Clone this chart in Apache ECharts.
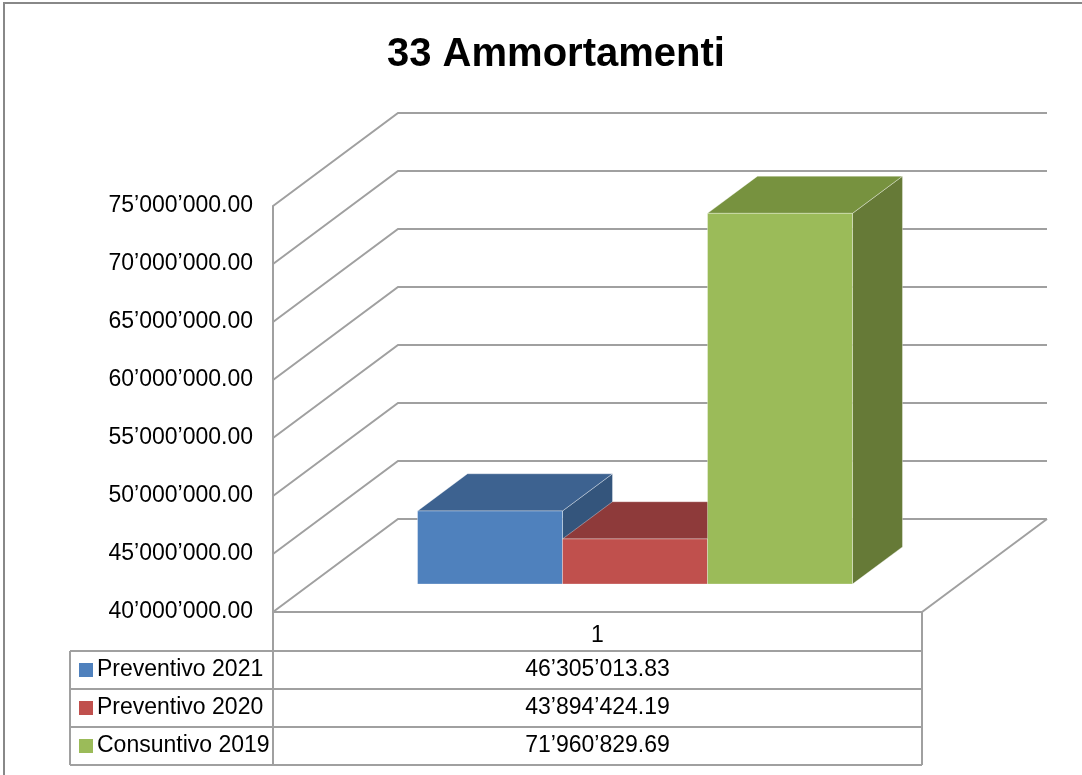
<!DOCTYPE html>
<html>
<head>
<meta charset="utf-8">
<script src="https://cdn.jsdelivr.net/npm/echarts@6/dist/echarts.min.js"></script>
<style>
  html, body { margin: 0; padding: 0; background: #fff; }
  #chart { width: 1082px; height: 775px; }
</style>
</head>
<body>
<div id="chart"></div>
<script>
// dati
const categories = ['1'];
const seriesNames = ['Preventivo 2021', 'Preventivo 2020', 'Consuntivo 2019'];
const seriesValues = [46305013.83, 43894424.19, 71960829.69];
const yTicks = [40000000, 45000000, 50000000, 55000000, 60000000, 65000000, 70000000, 75000000];

// colori: fronte, tetto, fianco
const frontColors = ['#4f81bd', '#c0504d', '#9bbb59'];
const topColors = ['#3d6290', '#8e3a3a', '#77923f'];
const sideColors = ['#34557c', '#7a3130', '#667a37'];

const FONT = '"Liberation Sans", Arial, sans-serif';
const GRID = { left: 273, top: 206, width: 649, height: 406 };
const DEPTH = [125, -93];     // profondità pareti 3D
const T0 = 0.3, T1 = 0.7;     // posizione barre nella profondità
const BAR_FRAC = 0.2234;      // larghezza barra / larghezza categoria
const LINE = '#a0a0a0';
const FS = 23;

// 46305013.83 -> 46’305’013.83
function fmt(v) {
  const parts = v.toFixed(2).split('.');
  return parts[0].replace(/\B(?=(\d{3})+(?!\d))/g, '’') + '.' + parts[1];
}

const chart = echarts.init(document.getElementById('chart'));

// pareti e pavimento
const wallSeries = {
  type: 'custom',
  silent: true,
  data: yTicks.map(v => [0, v]),
  renderItem: (params, api) => {
    const cs = params.coordSys;
    const y = api.coord([0, api.value(1)])[1];
    const x0 = cs.x;
    const pts = [[x0, y], [x0 + DEPTH[0], y + DEPTH[1]], [x0 + cs.width + DEPTH[0], y + DEPTH[1]]];
    const children = [{
      type: 'polyline',
      shape: { points: pts },
      style: { stroke: LINE, lineWidth: 2, fill: null }
    }];
    if (api.value(1) === yTicks[0]) {
      children.push({
        type: 'line',
        shape: { x1: x0 + cs.width, y1: y, x2: x0 + cs.width + DEPTH[0], y2: y + DEPTH[1] },
        style: { stroke: LINE, lineWidth: 2 }
      });
    }
    return { type: 'group', children };
  },
  z: 1
};

const barSeries = seriesNames.map((name, i) => ({
  type: 'custom',
  name,
  data: [[0, seriesValues[i]]],
  renderItem: (params, api) => {
    const cs = params.coordSys;
    const bw = cs.width * BAR_FRAC;
    const cx = api.coord([0, api.value(1)])[0];
    const x = cx - 1.5 * bw + i * bw + T0 * DEPTH[0];
    const yv = api.coord([0, api.value(1)])[1] + T0 * DEPTH[1];
    const yb = api.coord([0, yTicks[0]])[1] + T0 * DEPTH[1];
    const dx = (T1 - T0) * DEPTH[0], dy = (T1 - T0) * DEPTH[1];
    const edge = 'rgba(255,255,255,0.35)';
    return {
      type: 'group',
      children: [
        { type: 'polygon', shape: { points: [[x + bw, yv], [x + bw + dx, yv + dy], [x + bw + dx, yb + dy], [x + bw, yb]] },
          style: { fill: sideColors[i], stroke: edge, lineWidth: 1 } },
        { type: 'polygon', shape: { points: [[x, yv], [x + bw, yv], [x + bw + dx, yv + dy], [x + dx, yv + dy]] },
          style: { fill: topColors[i], stroke: edge, lineWidth: 1 } },
        { type: 'rect', shape: { x: x, y: yv, width: bw, height: yb - yv },
          style: { fill: frontColors[i], stroke: edge, lineWidth: 1 } }
      ]
    };
  },
  z: 2 + i
}));

// tabella dati sotto il grafico
const tableTop = 612, headH = 39, rowH = 38, tableLeft = 70;
const tableRight = GRID.left + GRID.width;
const tableBottom = tableTop + headH + rowH * seriesNames.length;
const tableEls = [];
const hl = (y, x1) => ({ type: 'line', shape: { x1, y1: y, x2: tableRight, y2: y }, style: { stroke: LINE, lineWidth: 2 } });
const vl = (x, y1) => ({ type: 'line', shape: { x1: x, y1, x2: x, y2: tableBottom }, style: { stroke: LINE, lineWidth: 2 } });
tableEls.push(vl(GRID.left, tableTop), vl(tableRight, tableTop), vl(tableLeft, tableTop + headH));
seriesNames.forEach((name, i) => {
  const y0 = tableTop + headH + i * rowH;
  tableEls.push(hl(y0, tableLeft));
  tableEls.push({ type: 'rect', shape: { x: 79, y: y0 + 12, width: 14, height: 14 }, style: { fill: frontColors[i] } });
  tableEls.push({ type: 'text', x: 97, y: y0 + rowH / 2,
    style: { text: name, font: FS + 'px ' + FONT, fill: '#000', verticalAlign: 'middle', align: 'left' } });
  tableEls.push({ type: 'text', x: GRID.left + GRID.width / 2, y: y0 + rowH / 2,
    style: { text: fmt(seriesValues[i]), font: FS + 'px ' + FONT, fill: '#000', verticalAlign: 'middle', align: 'center' } });
});
tableEls.push(hl(tableBottom, tableLeft));

chart.setOption({
  animation: false,
  title: {
    text: '33 Ammortamenti',
    left: 382,
    top: 30,
    textStyle: { fontFamily: FONT, fontSize: 40, fontWeight: 'bold', color: '#000' }
  },
  grid: { left: GRID.left, top: GRID.top, width: GRID.width, height: GRID.height },
  xAxis: {
    type: 'category',
    data: categories,
    axisLine: { show: true, lineStyle: { color: LINE, width: 2 } },
    axisTick: { show: false },
    axisLabel: { fontFamily: FONT, fontSize: FS, color: '#000', margin: 12 },
    splitLine: { show: false }
  },
  yAxis: {
    type: 'value',
    min: 40000000,
    max: 75000000,
    interval: 5000000,
    axisLine: { show: true, lineStyle: { color: LINE, width: 2 } },
    axisTick: { show: false },
    splitLine: { show: false },
    axisLabel: { fontFamily: FONT, fontSize: FS, color: '#000', margin: 20, formatter: v => fmt(v) }
  },
  graphic: [
    { type: 'rect', shape: { x: 4, y: 3, width: 1200, height: 900 }, style: { fill: null, stroke: '#888', lineWidth: 2 }, silent: true },
    ...tableEls
  ],
  series: [wallSeries, ...barSeries]
});
</script>
</body>
</html>
